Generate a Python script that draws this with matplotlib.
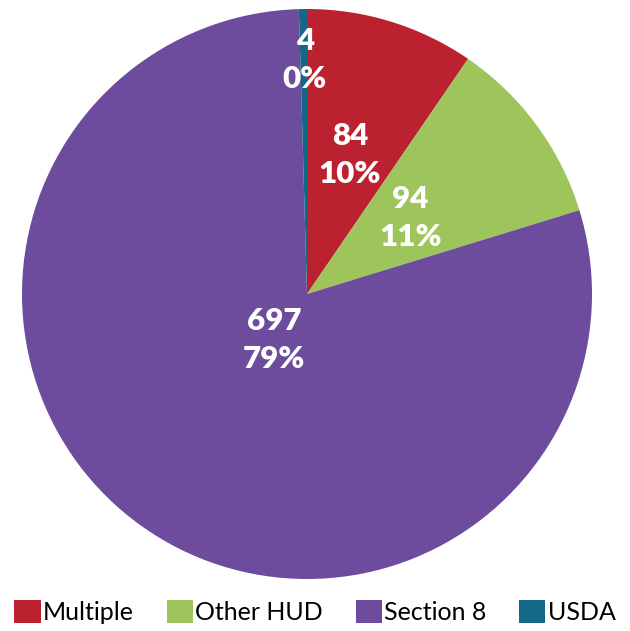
import numpy as np
import matplotlib.pyplot as plt
from matplotlib.patches import Patch

categorias = ["Multiple", "Other HUD", "Section 8", "USDA"]
valores = [84, 94, 697, 4]
colores = ["#BC212F", "#9DC55B", "#6D4C9E", "#156786"]

# distancia de cada etiqueta al centro (fraccion del radio)
dist_etiqueta = [0.51, 0.45, 0.20, 0.82]

fig = plt.figure(figsize=(6.3, 6.31), dpi=100)
ax = fig.add_axes([22 / 630, 52 / 631, 570 / 630, 570 / 631])

wedges, _ = ax.pie(
    valores,
    colors=colores,
    startangle=90,
    counterclock=False,
    radius=1,
    wedgeprops=dict(linewidth=0),
)
ax.set_xlim(-1, 1)
ax.set_ylim(-1, 1)
ax.set_aspect("equal")

total = sum(valores)
for w, v, d in zip(wedges, valores, dist_etiqueta):
    ang = np.deg2rad((w.theta1 + w.theta2) / 2)
    if v == 4:
        ang = np.deg2rad(w.theta1 + 0.5)
    x, y = d * np.cos(ang), d * np.sin(ang)
    ax.text(x, y, f"{v}\n{round(v / total * 100)}%", ha="center", va="center",
            color="white", fontsize=22.5, fontweight="heavy", family="Lato",
            linespacing=1.42)

handles = [Patch(facecolor=c, edgecolor="none") for c in colores]
fig.legend(handles, categorias, loc="center", bbox_to_anchor=(0.5, 1 - 612 / 631),
           ncol=4, frameon=False, prop=dict(family="Lato", size=18),
           handlelength=1.05, handleheight=1.05, handletextpad=0.1,
           columnspacing=1.3, borderaxespad=0)

fig.savefig("out.png", dpi=100)
